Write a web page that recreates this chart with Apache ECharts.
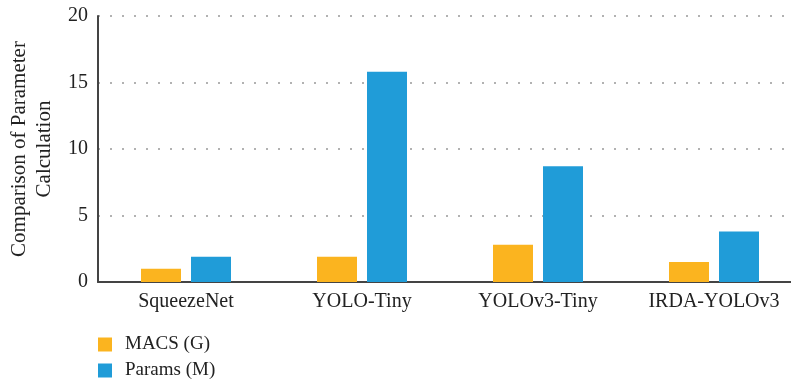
<!DOCTYPE html>
<html><head><meta charset="utf-8">
<script src="https://cdn.jsdelivr.net/npm/echarts@6/dist/echarts.min.js"></script>
<style>html,body{margin:0;padding:0;background:#fff}#c{width:791px;height:383px}</style>
</head><body><div id="c"></div>
<script>
const categories = ["SqueezeNet", "YOLO-Tiny", "YOLOv3-Tiny", "IRDA-YOLOv3"];
const macs = [1.0, 1.9, 2.8, 1.5];
const params = [1.9, 15.8, 8.7, 3.8];
const yTicks = [0, 5, 10, 15, 20];
const font = "'Liberation Serif', 'DejaVu Serif', serif";
const chart = echarts.init(document.getElementById('c'));
chart.setOption({
  animation: false,
  textStyle: { fontFamily: font },
  grid: { left: 98, top: 16, width: 704, height: 266, containLabel: false, outerBoundsMode: 'none' },
  legend: {
    orient: 'vertical', left: 98, top: 335, height: 48, padding: 0,
    itemWidth: 14, itemHeight: 14, itemGap: 7, icon: 'rect',
    textStyle: { fontFamily: font, fontSize: 19, color: '#222', padding: [0, 0, 0, 8] },
    data: ['MACS (G)', 'Params (M)']
  },
  xAxis: {
    type: 'category', data: categories,
    axisLine: { lineStyle: { color: '#444', width: 2 } },
    axisTick: { show: false },
    axisLabel: { fontFamily: font, fontSize: 20, color: '#222', margin: 10 }
  },
  yAxis: {
    type: 'value', min: yTicks[0], max: yTicks[yTicks.length - 1], interval: 5,
    name: 'Comparison of Parameter\nCalculation', nameLocation: 'middle', nameGap: 38,
    nameTextStyle: { fontFamily: font, fontSize: 21, color: '#222', lineHeight: 25 },
    axisLine: { show: true, lineStyle: { color: '#444', width: 2 } },
    axisTick: { show: false },
    axisLabel: { fontFamily: font, fontSize: 20, color: '#222', margin: 10 },
    splitLine: { lineStyle: { color: '#999', type: [2, 10], width: 1.5 } }
  },
  series: [
    { name: 'MACS (G)', type: 'bar', data: macs, barWidth: 40, barGap: '25%', itemStyle: { color: '#FBB41F' } },
    { name: 'Params (M)', type: 'bar', data: params, barWidth: 40, itemStyle: { color: '#209CD8' } }
  ]
});
</script></body></html>
